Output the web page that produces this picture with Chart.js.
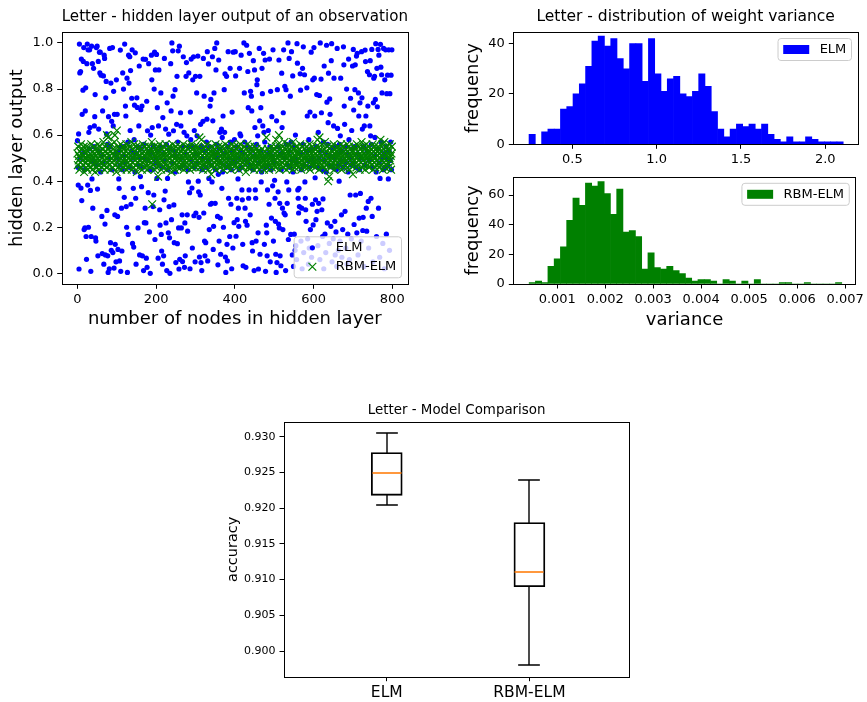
<!DOCTYPE html>
<html>
<head>
<meta charset="utf-8">
<script src="https://cdn.jsdelivr.net/npm/chart.js@4.4.0/dist/chart.umd.min.js"></script>
<style>
  body { margin: 0; background: #fff; }
  #fig { position: relative; width: 867px; height: 702px; }
  #fig canvas { position: absolute; }
</style>
</head>
<body>
<div id="fig">
  <canvas id="scatterCanvas" width="430" height="340" style="left:0px;top:0px"></canvas>
  <canvas id="elmHistCanvas" width="412" height="165" style="left:455px;top:0px"></canvas>
  <canvas id="rbmHistCanvas" width="412" height="175" style="left:455px;top:165px"></canvas>
  <canvas id="boxCanvas" width="430" height="307" style="left:215px;top:395px"></canvas>
</div>
<script>
// hidden layer output of one observation, one value per hidden node (0..799)
const elmOutput = [
  .576,.46,.383,.605,.019,.995,.87,.5,.876,.37,
  .93,.316,.69,.52,.795,.92,.98,.19,.45,.197,
  .705,.805,.16,.061,.91,.995,.383,.97,.2,.612,
  .54,.97,.633,.36,.009,.16,.986,.41,.91,.283,
  .49,.89,.55,.64,.68,.776,.154,.14,.98,.47,
  .986,.366,.076,.92,.626,.53,.96,.87,.96,.44,
  .86,.51,.247,.086,.705,.48,.857,.04,.947,.933,
  .214,.08,.762,.833,.605,.273,.56,.076,.004,.68,
  .5,.02,.976,.55,.133,.826,.1,.66,.45,.98,
  .09,.64,.79,.023,.69,.254,.126,.52,.05,.84,
  .5,.69,.247,.104,.53,.41,.369,.054,.47,.969,
  .009,.55,.283,.097,.45,.87,.51,.8,.55,.33,
  .995,.48,.726,.683,.29,.2,.847,.004,.57,.169,
  .947,.826,.46,.94,.62,.88,.3,.53,.76,.97,
  .13,.5,.369,.114,.58,.73,.44,.957,.326,.04,
  .52,.762,.72,.55,.197,.47,.64,.9,.08,.5,
  .42,.71,.54,.376,.726,.076,.46,.93,.012,.56,
  .22,.5,.283,.929,.219,.066,.747,.026,.619,.49,
  .35,.91,.53,.18,.45,0,.6,.52,.947,.84,
  .633,.45,.29,.55,.34,.8,.96,.147,.883,.48,
  .5,.95,.412,.719,.53,.066,.64,.883,.47,.276,
  .209,.55,.783,.169,.097,.46,.04,.676,.52,.076,
  .319,.933,.49,.357,.626,.219,.56,.012,.74,.412,
  .45,.176,.604,.29,.154,0,.54,.91,.705,.233,
  1,.48,.966,.769,.619,.297,.133,.53,.797,.44,
  .047,.51,.647,.855,.129,.57,.966,.197,.019,.986,
  .061,.46,.697,.64,.197,.5,.254,.051,.55,.94,
  .47,.612,.026,.219,.076,.52,.855,.915,.597,.254,
  .183,.45,.397,.87,.55,.35,.02,.7,.58,.93,
  .49,.37,.11,.84,.55,.94,.25,.62,.46,.05,
  .855,.262,.52,.783,.597,.48,.943,.4,.354,.243,
  .071,.855,.34,.647,.047,.55,.012,.45,.5,.66,
  .933,.262,.769,.14,.076,.53,.133,.46,.57,.669,
  .962,.054,.49,.909,.412,.19,.55,.726,.3,.755,
  .47,.304,.397,.94,.662,.104,.204,.783,.52,.976,
  .304,.45,.883,.56,1,.5,.247,.037,.43,.926,
  .14,.54,.612,.24,.083,.48,.626,.369,.59,.44,
  .683,.2,.52,.797,.612,.866,.071,.004,.46,.855,
  .126,.054,.55,.962,.326,.47,.5,.16,.89,.57,
  .3,.45,.02,.7,.53,.11,.96,.49,.22,.58,
  .48,.962,.857,.161,.55,.326,.233,.5,.41,.283,
  .204,.45,.89,.605,.53,.597,.947,.46,.362,.319,
  .126,.033,.52,1,.783,.57,.283,.226,.026,.49,
  .99,.209,.55,.876,.719,.326,.362,.955,.47,.254,
  .79,.54,.769,.705,.133,.097,.45,.923,.51,.012,
  .883,.633,.362,.326,.14,.56,.819,.84,.597,.176,
  .019,.48,.976,.662,.083,.53,.719,.397,.44,.89,
  .78,.64,.5,.955,.612,.126,.57,.926,.009,.46,
  .209,.176,.076,.362,.52,.62,.47,.3,.93,.55,
  .05,.79,.45,.24,.68,.51,.38,.97,.14,.49,
  .48,.404,.326,.226,.083,.004,.662,.047,.797,.55,
  .354,.214,.926,.197,.304,.076,.52,.033,.45,.869,
  .633,.283,.19,.697,.97,.262,.5,.812,.254,.012,
  .797,.56,.397,.304,.47,1,.147,.362,.933,.53,
  .46,.769,.169,.57,.962,.49,.08,.857,.44,.03,
  .55,.17,.5,.1,.6,.12,.48,.06,.997,.912,
  .362,.326,.262,.369,.29,.52,.866,.795,.14,.45,
  .283,.02,.89,.56,.983,.09,.47,.862,.397,.326,
  .276,.226,.53,.805,.683,.15,.49,.04,.58,.11,
  .46,.7,.19,.54,.96,.07,.5,.3,.84,.21,
  .48,.98,.847,.683,.415,.319,.233,.55,.776,.269,
  .46,.12,.612,.304,.5,.772,.06,1,.53,.843,
  .697,.276,.45,.16,.323,.57,.02,.9,.49,.17,
  .52,.09,.44,.99,.743,.219,.56,.654,.869,.47,
  .13,.757,.69,.51,.204,.923,.997,.05,.54,.46,
  .15,.64,.847,.5,.226,.08,.55,.18,.45,.03,
  .976,.629,.52,.1,.47,.4,.56,.14,.597,.847,
  .49,.254,.07,.53,.19,.46,.983,.905,.726,.647,
  .269,.55,.11,.48,.8,.04,.52,.17,.44,.93,
  .58,.06,.5,.34,.76,.47,.15,.62,.54,.9,
  .48,.972,.709,.212,.55,.797,.905,.34,.46,.943,
  .176,.955,.52,.08,.783,.683,.24,.45,.74,.347,
  .5,.14,.962,.762,.626,.186,.243,.55,.03,.64,
  .47,.969,.919,.683,.283,.183,.53,.876,.726,.312,
  .11,.49,.862,.64,.923,.597,.326,.56,.972,.247,
  .46,.05,.74,.847,.51,.855,.59,.755,.997,.44,
  .16,.89,.723,.54,.972,.283,.947,.48,.07,.412,
  .994,.895,.57,.862,.783,.5,.13,.45,.976,.52,
  .02,.84,.46,.97,.55,.17,.78,.5,.86,.47,
  .41,.97,.53,.1,.78,.49,.57,.86,.45,.97
];
const rbmOutput = [
  .52,.47,.55,.49,.51,.45,.53,.50,.48,.56,.46,.52,.54,.49,.47,.51,.55,.44,.50,.53,
  .48,.52,.46,.55,.50,.45,.53,.49,.51,.47,.54,.50,.46,.52,.48,.56,.49,.51,.45,.53,
  .50,.47,.55,.52,.48,.44,.51,.54,.49,.46,.53,.50,.56,.47,.52,.45,.49,.55,.51,.48,
  .53,.46,.50,.54,.48,.52,.57,.47,.51,.45,.55,.49,.53,.50,.46,.60,.52,.48,.59,.54,
  .47,.51,.55,.49,.45,.53,.50,.56,.48,.52,.46,.54,.49,.51,.57,.60,.47,.53,.50,.44,
  .62,.51,.48,.55,.46,.52,.49,.54,.47,.50,.56,.45,.53,.48,.51,.55,.49,.46,.52,.54,
  .50,.47,.53,.49,.56,.45,.51,.48,.54,.52,.46,.50,.55,.47,.53,.49,.51,.57,.45,.52,
  .48,.54,.50,.46,.56,.51,.49,.53,.47,.55,.52,.44,.50,.54,.48,.51,.46,.55,.49,.53,
  .51,.47,.54,.50,.45,.52,.56,.48,.53,.49,.46,.55,.51,.47,.52,.50,.54,.45,.49,.53,
  .47,.52,.55,.49,.46,.51,.54,.48,.50,.57,.30,.53,.47,.52,.49,.55,.45,.51,.48,.54,
  .50,.46,.53,.49,.55,.42,.52,.48,.51,.56,.47,.53,.50,.45,.54,.49,.52,.46,.55,.51,
  .48,.53,.50,.47,.56,.52,.45,.51,.54,.49,.47,.53,.50,.55,.46,.52,.48,.54,.51,.44,
  .53,.49,.56,.47,.51,.54,.48,.52,.45,.50,.55,.47,.53,.49,.51,.46,.54,.50,.52,.48,
  .55,.49,.46,.53,.51,.47,.54,.50,.48,.56,.45,.52,.49,.53,.47,.51,.55,.48,.50,.46,
  .52,.54,.49,.47,.55,.51,.45,.53,.50,.48,.56,.46,.52,.49,.54,.47,.51,.53,.48,.55,
  .50,.46,.53,.49,.52,.47,.55,.51,.48,.54,.59,.50,.46,.52,.49,.58,.53,.47,.51,.45,
  .54,.49,.52,.47,.55,.50,.46,.53,.48,.51,.56,.49,.45,.52,.54,.48,.50,.53,.47,.51,
  .43,.55,.49,.52,.47,.53,.50,.46,.54,.48,.51,.56,.45,.52,.49,.53,.47,.50,.55,.48,
  .52,.49,.54,.46,.51,.53,.48,.55,.47,.50,.52,.45,.54,.49,.51,.47,.56,.50,.53,.48,
  .46,.52,.49,.55,.51,.47,.53,.50,.48,.54,.45,.52,.49,.56,.47,.51,.53,.48,.50,.55,
  .49,.53,.47,.51,.54,.46,.52,.50,.55,.48,.45,.53,.49,.51,.56,.47,.52,.50,.54,.48,
  .51,.46,.53,.49,.55,.50,.47,.52,.44,.54,.48,.51,.56,.49,.46,.53,.50,.52,.47,.55,
  .49,.52,.46,.54,.50,.47,.53,.48,.51,.45,.55,.49,.52,.47,.50,.54,.46,.51,.53,.48,
  .50,.47,.52,.45,.49,.53,.48,.51,.46,.54,.50,.47,.52,.49,.45,.53,.48,.51,.47,.50,
  .59,.49,.52,.46,.54,.48,.51,.45,.53,.50,.47,.52,.49,.55,.46,.51,.48,.53,.50,.47,
  .54,.49,.52,.46,.55,.58,.48,.53,.50,.47,.56,.51,.60,.45,.52,.49,.54,.47,.51,.53,
  .48,.55,.50,.46,.53,.49,.57,.52,.47,.51,.54,.45,.50,.53,.48,.56,.49,.52,.46,.54,
  .51,.47,.53,.50,.55,.48,.52,.45,.57,.49,.54,.50,.46,.53,.51,.48,.55,.47,.52,.49,
  .53,.46,.50,.54,.48,.52,.56,.47,.51,.45,.53,.49,.55,.50,.47,.52,.48,.54,.46,.51,
  .50,.53,.47,.55,.49,.52,.46,.54,.51,.48,.56,.45,.53,.50,.47,.52,.49,.55,.48,.51,
  .53,.47,.50,.54,.46,.52,.49,.55,.48,.51,.58,.47,.53,.50,.45,.59,.52,.48,.54,.49,
  .51,.56,.47,.53,.50,.46,.54,.48,.52,.57,.49,.45,.53,.51,.47,.55,.50,.40,.52,.48,
  .42,.54,.49,.52,.46,.55,.50,.47,.53,.51,.48,.56,.45,.52,.49,.54,.47,.51,.53,.50,
  .46,.52,.55,.48,.51,.49,.54,.47,.53,.50,.56,.45,.52,.48,.51,.55,.49,.46,.53,.50,
  .52,.47,.54,.49,.51,.56,.46,.53,.48,.50,.55,.45,.52,.49,.54,.47,.51,.53,.48,.50,
  .43,.53,.49,.55,.47,.51,.54,.48,.52,.46,.56,.50,.53,.47,.51,.49,.55,.45,.52,.54,
  .48,.51,.57,.46,.53,.50,.49,.55,.47,.52,.54,.45,.51,.48,.56,.50,.53,.47,.49,.52,
  .55,.46,.51,.53,.48,.50,.54,.47,.52,.49,.56,.45,.53,.51,.48,.55,.50,.46,.52,.54,
  .49,.53,.47,.51,.55,.48,.52,.46,.54,.50,.58,.47,.53,.49,.51,.56,.45,.52,.48,.54,
  .57,.50,.46,.53,.49,.55,.51,.47,.52,.48,.54,.46,.53,.50,.56,.49,.51,.45,.52,.55
];
const scatterXTicks = [0, 200, 400, 600, 800];
const scatterYTicks = [0, 0.2, 0.4, 0.6, 0.8, 1.0];
const scatterYLabels = ["0.0", "0.2", "0.4", "0.6", "0.8", "1.0"];

// weight variance histograms, 50 bins each
const elmBinStart = 0.2433;
const elmBinWidth = 0.03726;
const elmCounts = [
  4, 0, 5, 6, 6, 14, 15, 20, 24, 31,
  41, 43, 39, 42, 34, 30, 40, 40, 25, 42,
  28, 21, 26, 27, 20, 19, 21, 28, 23, 13,
  6, 3, 6, 8, 7, 8, 6, 8, 4, 2,
  1, 3, 1, 1, 3, 2, 1, 1, 1, 1
];
const elmXTicks = [0.5, 1.0, 1.5, 2.0];
const elmXLabels = ["0.5", "1.0", "1.5", "2.0"];
const elmYTicks = [0, 20, 40];

const rbmBinStart = 0.000414;
const rbmBinWidth = 0.00013032;
const rbmCounts = [
  1, 2, 1, 12, 17, 25, 43, 58, 53, 68,
  66, 69, 61, 47, 64, 35, 36, 32, 10, 21,
  11, 10, 12, 9, 7, 4, 2, 3, 3, 2,
  0, 3, 2, 0, 2, 0, 3, 0, 0, 0,
  1, 1, 0, 0, 1, 0, 0, 0, 0, 1
];
const rbmXTicks = [0.001, 0.002, 0.003, 0.004, 0.005, 0.006, 0.007];
const rbmXLabels = ["0.001", "0.002", "0.003", "0.004", "0.005", "0.006", "0.007"];
const rbmYTicks = [0, 20, 40, 60];

// model comparison box plot
const models = ["ELM", "RBM-ELM"];
const boxPositions = [1, 2];
const accLow = [0.9205, 0.898];
const accQ1 = [0.9218, 0.909];
const accMedian = [0.925, 0.911];
const accQ3 = [0.9278, 0.918];
const accHigh = [0.9305, 0.924];
const accTicks = [0.900, 0.905, 0.910, 0.915, 0.920, 0.925, 0.930];

Chart.defaults.font.family = "'DejaVu Sans', sans-serif";
Chart.defaults.color = "#000";
Chart.defaults.animation = false;

// black box around the plot area, like matplotlib spines
const frame = {
  id: "frame",
  afterDatasetsDraw(chart) {
    const { ctx, chartArea: a } = chart;
    ctx.save();
    ctx.strokeStyle = "#000";
    ctx.lineWidth = 1;
    ctx.strokeRect(Math.round(a.left) + 0.5, Math.round(a.top) + 0.5,
      Math.round(a.right - a.left), Math.round(a.bottom - a.top));
    ctx.restore();
  }
};

// matplotlib style legend inside the axes
const cornerLegend = {
  id: "cornerLegend",
  afterDraw(chart, args, opts) {
    const { ctx, chartArea: a } = chart;
    const pad = 5.2, handle = 26, textPad = 10.4, step = 19;
    const sets = chart.data.datasets;
    ctx.save();
    ctx.font = "13px 'DejaVu Sans'";
    const textW = Math.max(...sets.map(d => ctx.measureText(d.label).width));
    const w = pad + handle + textPad + textW + pad;
    const h = 22 + step * (sets.length - 1);
    const x0 = a.right - 6.5 - w;
    const y0 = opts.corner === "lower" ? a.bottom - 6.5 - h : a.top + 6.5;
    ctx.beginPath();
    if (ctx.roundRect) ctx.roundRect(x0, y0, w, h, 3); else ctx.rect(x0, y0, w, h);
    ctx.fillStyle = "rgba(255,255,255,0.8)";
    ctx.fill();
    ctx.strokeStyle = "#cccccc";
    ctx.lineWidth = 1;
    ctx.stroke();
    sets.forEach((d, i) => {
      const cy = y0 + 11 + step * i;
      const hx = x0 + pad + handle / 2;
      if (opts.patch) {
        ctx.fillStyle = d.backgroundColor;
        ctx.fillRect(x0 + pad, cy - 4.5, handle, 9);
      } else {
        ctx.fillStyle = d.backgroundColor;
        ctx.strokeStyle = d.borderColor;
        ctx.lineWidth = d.borderWidth || 1;
        Chart.helpers.drawPoint(ctx, {
          pointStyle: d.pointStyle, radius: d.pointRadius,
          borderWidth: d.borderWidth, rotation: 0
        }, hx, cy);
      }
      ctx.fillStyle = "#000";
      ctx.textBaseline = "middle";
      ctx.textAlign = "left";
      ctx.fillText(d.label, x0 + pad + handle + textPad, cy);
    });
    ctx.restore();
  }
};

// whiskers, caps and medians for the box plot
const boxWhiskers = {
  id: "boxWhiskers",
  afterDatasetsDraw(chart) {
    const { ctx, scales: { x, y } } = chart;
    const meta = chart.getDatasetMeta(0);
    ctx.save();
    boxPositions.forEach((pos, i) => {
      const cx = Math.round(x.getPixelForValue(pos));
      const half = meta.data[i].width / 2;
      const cap = half * 0.7;
      const yPix = (v) => Math.round(y.getPixelForValue(v));
      ctx.lineWidth = 1.4;
      ctx.strokeStyle = "#000";
      ctx.beginPath();
      ctx.moveTo(cx, yPix(accLow[i]));
      ctx.lineTo(cx, yPix(accQ1[i]));
      ctx.moveTo(cx, yPix(accQ3[i]));
      ctx.lineTo(cx, yPix(accHigh[i]));
      ctx.moveTo(cx - cap, yPix(accLow[i]));
      ctx.lineTo(cx + cap, yPix(accLow[i]));
      ctx.moveTo(cx - cap, yPix(accHigh[i]));
      ctx.lineTo(cx + cap, yPix(accHigh[i]));
      ctx.stroke();
      ctx.lineWidth = 1.6;
      ctx.strokeStyle = "#ff7f0e";
      ctx.beginPath();
      ctx.moveTo(cx - half + 1, yPix(accMedian[i]));
      ctx.lineTo(cx + half - 1, yPix(accMedian[i]));
      ctx.stroke();
    });
    ctx.restore();
  }
};

function tickGrid() {
  return { offset: false, drawOnChartArea: false, drawTicks: true, tickLength: 4.5, tickColor: "#000", tickWidth: 1 };
}

function fixedTicks(values) {
  return (scale) => { scale.ticks = values.map(v => ({ value: v })); };
}

function makeScatter() {
  const ctx = document.getElementById("scatterCanvas").getContext("2d");
  new Chart(ctx, {
    type: "scatter",
    data: {
      datasets: [{
        label: "ELM",
        data: elmOutput.map((v, i) => ({ x: i, y: v })),
        pointStyle: "circle",
        pointRadius: 2.6,
        borderWidth: 0,
        backgroundColor: "#0000ff",
        borderColor: "#0000ff",
        order: 2,
      }, {
        label: "RBM-ELM",
        data: rbmOutput.map((v, i) => ({ x: i, y: v })),
        pointStyle: "crossRot",
        pointRadius: 5.5,
        borderWidth: 1.2,
        backgroundColor: "#008000",
        borderColor: "#008000",
        order: 1,
      }],
    },
    options: {
      responsive: false,
      devicePixelRatio: 1,
      layout: { padding: { left: 0, right: 22, top: 0, bottom: 0 } },
      plugins: {
        legend: { display: false },
        tooltip: { enabled: false },
        title: {
          display: true, fullSize: false,
          text: "Letter - hidden layer output of an observation",
          font: { size: 15.5, weight: "normal" },
          padding: { top: 8, bottom: 5.4 },
        },
        cornerLegend: { corner: "lower", patch: false },
      },
      scales: {
        x: {
          type: "linear", min: -40, max: 840,
          afterBuildTicks: fixedTicks(scatterXTicks),
          afterFit: (s) => { s.height = 55.7; },
          grid: tickGrid(), border: { display: false },
          ticks: { font: { size: 13 }, padding: 3, maxRotation: 0, autoSkip: false },
          title: { display: true, text: "number of nodes in hidden layer", font: { size: 18 }, padding: { top: 0, bottom: 10 } },
        },
        y: {
          type: "linear", min: -0.0475, max: 1.0475,
          afterBuildTicks: fixedTicks(scatterYTicks),
          afterFit: (s) => { s.width = 61.7; },
          grid: tickGrid(), border: { display: false },
          ticks: { font: { size: 13 }, padding: 4, autoSkip: false, callback: (v, i) => scatterYLabels[i] },
          title: { display: true, text: "hidden layer output", font: { size: 18 }, padding: { top: 7, bottom: 0 } },
        },
      },
    },
    plugins: [frame, cornerLegend],
  });
}

function makeHist(canvasId, opts) {
  const ctx = document.getElementById(canvasId).getContext("2d");
  new Chart(ctx, {
    type: "bar",
    data: {
      datasets: [{
        label: opts.label,
        data: opts.counts.map((c, i) => ({ x: opts.binStart + (i + 0.5) * opts.binWidth, y: c })),
        backgroundColor: opts.color,
        borderWidth: 0,
        barPercentage: 1,
        categoryPercentage: 1,
      }],
    },
    options: {
      responsive: false,
      devicePixelRatio: 1,
      layout: { padding: { left: 0, right: 9, top: opts.padTop, bottom: 0 } },
      plugins: {
        legend: { display: false },
        tooltip: { enabled: false },
        title: opts.title ? {
          display: true, fullSize: false, text: opts.title,
          font: { size: 15.5, weight: "normal" },
          padding: { top: 8, bottom: 5.4 },
        } : { display: false },
        cornerLegend: { corner: "upper", patch: true },
      },
      scales: {
        x: {
          type: "linear", min: opts.xMin, max: opts.xMax, offset: false,
          afterBuildTicks: fixedTicks(opts.xTicks),
          afterFit: (s) => { s.height = opts.xHeight; },
          grid: tickGrid(), border: { display: false },
          ticks: { font: { size: 13 }, padding: 3, maxRotation: 0, autoSkip: false, callback: (v, i) => opts.xLabels[i] },
          title: opts.xTitle ? { display: true, text: opts.xTitle, font: { size: 18 }, padding: { top: 0, bottom: 9 } } : { display: false },
        },
        y: {
          type: "linear", min: 0, max: opts.yMax,
          afterBuildTicks: fixedTicks(opts.yTicks),
          afterFit: (s) => { s.width = 58.3; },
          grid: tickGrid(), border: { display: false },
          ticks: { font: { size: 13 }, padding: 4, autoSkip: false },
          title: { display: true, text: "frequency", font: { size: 18 }, padding: { top: 8, bottom: 0 } },
        },
      },
    },
    plugins: [frame, cornerLegend],
  });
}

function makeBox() {
  const ctx = document.getElementById("boxCanvas").getContext("2d");
  new Chart(ctx, {
    type: "bar",
    data: {
      datasets: [{
        label: "accuracy",
        data: boxPositions.map((p, i) => ({ x: p, y: [accQ1[i], accQ3[i]] })),
        backgroundColor: "rgba(255,255,255,0)",
        borderColor: "#000",
        borderWidth: 1.2,
        borderSkipped: false,
        barThickness: 31,
      }],
    },
    options: {
      responsive: false,
      devicePixelRatio: 1,
      layout: { padding: { left: 0, right: 15.7, top: 0, bottom: 0 } },
      plugins: {
        legend: { display: false },
        tooltip: { enabled: false },
        title: {
          display: true, fullSize: false, text: "Letter - Model Comparison",
          font: { size: 13.4, weight: "normal" },
          padding: { top: 7.8, bottom: 3 },
        },
      },
      scales: {
        x: {
          type: "linear", min: 0.28, max: 2.70, offset: false,
          afterBuildTicks: fixedTicks(boxPositions),
          afterFit: (s) => { s.height = 25.3; },
          grid: tickGrid(), border: { display: false },
          ticks: { font: { size: 15.5 }, padding: 2, maxRotation: 0, autoSkip: false, callback: (v, i) => models[i] },
        },
        y: {
          type: "linear", min: 0.8964, max: 0.9321,
          afterBuildTicks: fixedTicks(accTicks),
          afterFit: (s) => { s.width = 69; },
          grid: tickGrid(), border: { display: false },
          ticks: { font: { size: 11 }, padding: 4, autoSkip: false, callback: (v) => v.toFixed(3) },
          title: { display: true, text: "accuracy", font: { size: 14.5 }, padding: { top: 9.3, bottom: 0 } },
        },
      },
    },
    plugins: [frame, boxWhiskers],
  });
}

makeScatter();
makeHist("elmHistCanvas", {
  label: "ELM", counts: elmCounts, binStart: elmBinStart, binWidth: elmBinWidth,
  color: "#0000ff", xMin: 0.150, xMax: 2.194, xTicks: elmXTicks, xLabels: elmXLabels,
  yMax: 44.6, yTicks: elmYTicks, xHeight: 20.7, padTop: 0,
  title: "Letter - distribution of weight variance",
});
makeHist("rbmHistCanvas", {
  label: "RBM-ELM", counts: rbmCounts, binStart: rbmBinStart, binWidth: rbmBinWidth,
  color: "#008000", xMin: 0.0000833, xMax: 0.007222, xTicks: rbmXTicks, xLabels: rbmXLabels,
  yMax: 72.3, yTicks: rbmYTicks, xHeight: 56, padTop: 4, xTitle: "variance",
});
makeBox();
</script>
</body>
</html>
